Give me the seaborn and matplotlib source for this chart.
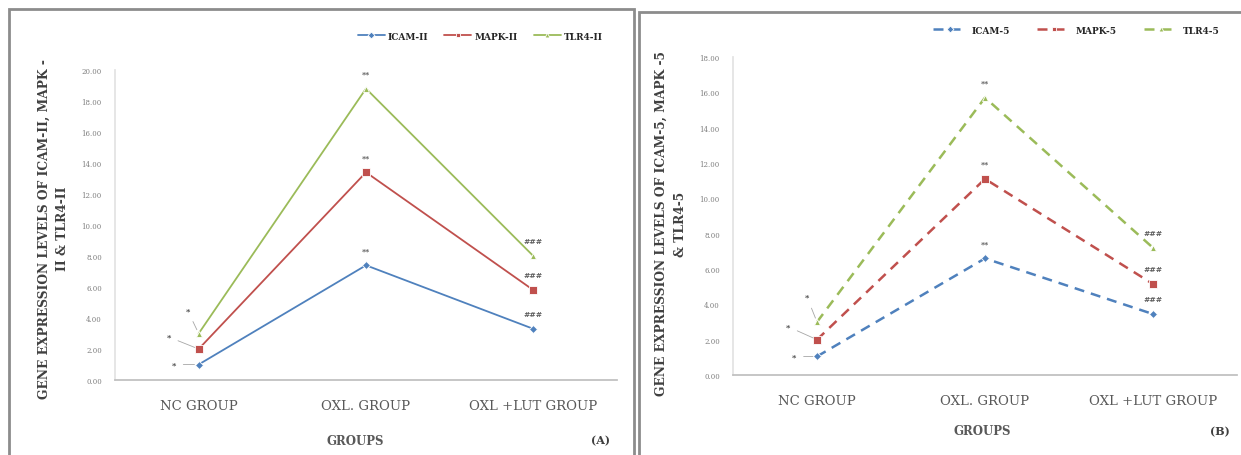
import matplotlib
matplotlib.use("Agg")
import matplotlib.pyplot as plt
import matplotlib.colors as mcolors
import numpy as np
import pandas as pd
import seaborn as sns
from matplotlib.patches import Rectangle

GROUPS = ['NC GROUP', 'OXL. GROUP', 'OXL +LUT GROUP']

# panel A (II)
genes_a = ['ICAM-II', 'MAPK-II', 'TLR4-II']
icam_a = [1.0, 7.4, 3.3]
mapk_a = [2.0, 13.4, 5.8]
tlr4_a = [3.0, 18.8, 8.0]

# panel B (5)
genes_b = ['ICAM-5', 'MAPK-5', 'TLR4-5']
icam_b = [1.05, 6.6, 3.45]
mapk_b = [2.0, 11.1, 5.15]
tlr4_b = [3.0, 15.7, 7.2]

# significance marks per group
sig_marks = ['*', '**', '###']

COLORS = ['#4F81BD', '#C0504D', '#9BBB59']
MARKERS = ['D', 's', '^']
MSIZES = [4.5, 6, 4.5]

W, H = 1241, 456

sns.set_theme(style='white')
plt.rcParams['font.family'] = ['DejaVu Serif']

fig = plt.figure(figsize=(W / 100, H / 100), dpi=100)


def to_frame(genes, series):
    rows = []
    for gene, vals in zip(genes, series):
        for grp, v in zip(GROUPS, vals):
            rows.append({'Group': grp, 'Gene': gene, 'Value': v})
    return pd.DataFrame(rows)


def px_axes(x0, x1, y_top, y_bot):
    return fig.add_axes([x0 / W, 1 - y_bot / H, (x1 - x0) / W, (y_bot - y_top) / H])


def resize_markers(lines):
    # bigger square for MAPK, like the excel original
    for ln in lines:
        c = mcolors.to_hex(ln.get_color()).upper()
        if c in COLORS:
            ln.set_markersize(MSIZES[COLORS.index(c)])


def draw_panel(ax, genes, series, ymax, dashed, nc_offsets):
    df = to_frame(genes, series)
    pal = dict(zip(genes, COLORS))
    mk = dict(zip(genes, MARKERS))
    if dashed:
        dsh = {g: (4, 2.8) for g in genes}
        lw = 1.8
    else:
        dsh = {g: '' for g in genes}
        lw = 1.3
    sns.lineplot(data=df, x='Group', y='Value', hue='Gene', style='Gene',
                 palette=pal, markers=mk, dashes=dsh, sort=False, ax=ax,
                 linewidth=lw, markersize=5, markeredgewidth=0.6)
    resize_markers(ax.lines)
    ax.set_xlim(-0.5, 2.5)
    ax.set_ylim(0, ymax)
    ax.set_yticks(np.arange(0, ymax + 0.1, 2))
    ax.set_yticklabels([f'{v:.2f}' for v in np.arange(0, ymax + 0.1, 2)],
                       fontsize=5, color='#7f7f7f')
    ax.set_xticks(range(3))
    ax.set_xticklabels(GROUPS, fontsize=9.5, color='#595959')
    ax.tick_params(axis='y', length=3, width=0.6, color='#d9d9d9', pad=6.5)
    ax.tick_params(axis='x', length=0, pad=14)
    for s in ['top', 'right']:
        ax.spines[s].set_visible(False)
    ax.spines['left'].set_color('#e3e3e3')
    ax.spines['bottom'].set_color('#bfbfbf')
    ax.set_xlabel('')

    # significance marks
    for gi, vals in enumerate(series):
        ax.annotate(sig_marks[0], xy=(0, vals[0]), xytext=nc_offsets[gi],
                    textcoords='offset pixels', ha='center', va='center',
                    fontsize=6, fontweight='bold', color='#404040',
                    arrowprops=dict(arrowstyle='-', color='#a6a6a6', lw=0.6,
                                    shrinkA=3, shrinkB=3))
        for xi in (1, 2):
            ax.annotate(sig_marks[xi], xy=(xi, vals[xi]), xytext=(0, 15),
                        textcoords='offset pixels', ha='center', va='center',
                        fontsize=5.5, fontweight='bold', color='#595959')

    leg = ax.get_legend()
    if leg is not None:
        leg.remove()
    return ax


def small_legend(leg):
    for h in leg.legend_handles:
        h.set_markersize(3.5)


# panel A
axA = px_axes(115, 617, 71, 381)
draw_panel(axA, genes_a, [icam_a, mapk_a, tlr4_a], 20, False,
           [(-25, 0), (-30, 12), (-11, 23)])
axA.set_ylabel('GENE EXPRESSION LEVELS OF ICAM-II, MAPK -\nII & TLR4-II',
               fontsize=8.8, fontweight='bold', color='#404040', linespacing=1.55)
axA.yaxis.set_label_coords(-0.092, 0.49)
hA, lA = axA.get_legend_handles_labels()
legA = fig.legend(hA, lA, loc='center', bbox_to_anchor=(480 / W, 1 - 37 / H), ncol=3,
                  frameon=False, handlelength=3, columnspacing=1.8,
                  handletextpad=0.3, prop={'weight': 'bold', 'size': 6.5})
small_legend(legA)

# panel B
axB = px_axes(733, 1237, 58, 376)
draw_panel(axB, genes_b, [icam_b, mapk_b, tlr4_b], 18, True,
           [(-23, 0), (-29, 13), (-10, 25)])
axB.set_ylabel('GENE EXPRESSION LEVELS OF ICAM-5, MAPK -5\n& TLR4-5',
               fontsize=8.8, fontweight='bold', color='#404040', linespacing=1.55)
axB.yaxis.set_label_coords(-0.092, 0.478)
hB, lB = axB.get_legend_handles_labels()
legB = fig.legend(hB, lB, loc='center', bbox_to_anchor=(1076 / W, 1 - 31 / H), ncol=3,
                  frameon=False, handlelength=3.8, columnspacing=3.0,
                  handletextpad=0.5, prop={'weight': 'bold', 'size': 6.5})
small_legend(legB)

# axis titles and panel tags
fig.text(355 / W, 1 - 442 / H, 'GROUPS', ha='center', va='center',
         fontsize=8.5, fontweight='bold', color='#595959')
fig.text(601 / W, 1 - 441 / H, '(A)', ha='center', va='center',
         fontsize=8, fontweight='bold', color='#404040')
fig.text(982 / W, 1 - 432 / H, 'GROUPS', ha='center', va='center',
         fontsize=8.5, fontweight='bold', color='#595959')
fig.text(1220 / W, 1 - 432 / H, '(B)', ha='center', va='center',
         fontsize=8, fontweight='bold', color='#404040')

# panel frames
fig.patches.append(Rectangle((9 / W, -0.05), (634 - 9) / W, 1.05 - 10 / H,
                             transform=fig.transFigure, fill=False,
                             edgecolor='#8c8c8c', lw=2))
fig.patches.append(Rectangle((639 / W, -0.05), (1250 - 639) / W, 1.05 - 13 / H,
                             transform=fig.transFigure, fill=False,
                             edgecolor='#8c8c8c', lw=2))

fig.savefig('out.png', dpi=100)
